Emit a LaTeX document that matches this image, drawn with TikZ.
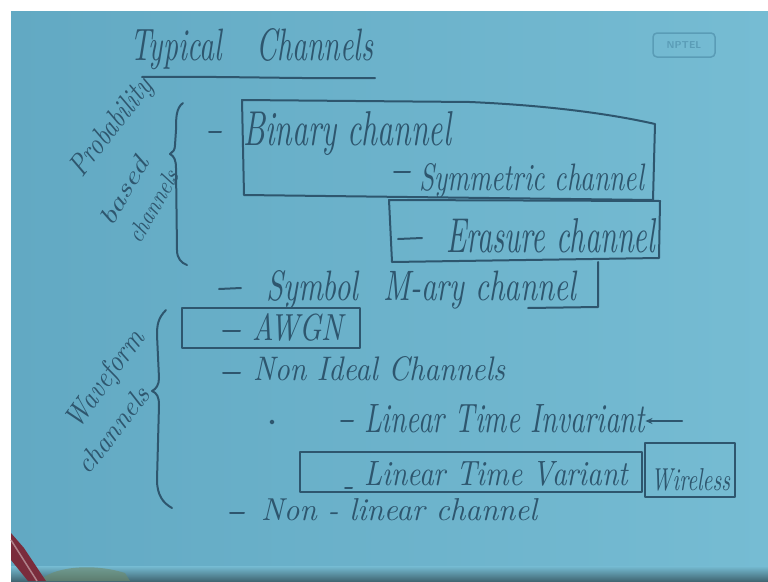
\documentclass[tikz,border=0pt]{standalone}
\usepackage{graphicx}
\usetikzlibrary{arrows.meta}
\definecolor{paperL}{HTML}{62A9C3}
\definecolor{paperR}{HTML}{76BCD3}
\definecolor{ink}{HTML}{2E566E}
\definecolor{logo}{HTML}{5A9CB6}
\definecolor{pen}{HTML}{7A2C3C}
\definecolor{olive}{HTML}{6F8A6A}
% handwritten word: width, height above baseline, text
\newcommand\hw[3]{\resizebox{#1pt}{#2pt}{\itshape #3}}
\begin{document}
\begin{tikzpicture}[x=1pt,y=-1pt,
  ink/.style={draw=ink, line width=2pt, line cap=round, line join=round},
  hand/.style={text=ink, inner sep=0pt, anchor=base west},
  slant/.style={text=ink, inner sep=0pt, anchor=center}]
\useasboundingbox (0,0) rectangle (768,581);
% sheet on the board
\fill[white] (0,0) rectangle (768,581);
\shade[left color=paperL, right color=paperR] (11,11) rectangle (768,581);
\shade[top color=paperR, bottom color=paperR!55!black] (11,566) rectangle (768,581);
\fill[olive, opacity=0.6] (40,581) .. controls (50,568) and (90,562) .. (125,573) -- (130,581) -- cycle;
\fill[pen] (11,533) -- (24,548) -- (46,581) -- (28,581) -- (11,560) -- cycle;
\draw[pen!60!white, line width=1.5pt] (11,540) -- (37,581);
% logo
\node[draw=logo, line width=1.5pt, rounded corners=4pt, text=logo, font=\sffamily\bfseries, inner sep=3pt, minimum width=62pt, minimum height=24pt] (lg) at (684,45) {NPTEL};

% title
\node[hand] (title) at (130,60) {\hw{243}{32}{Typical\hspace{1.2em}Channels}};
\draw[ink] (142,77) .. controls (220,76) and (300,79) .. (375,78);

% probability based channels
\node[slant, rotate=52] (pb1) at (112,128) {\hw{116}{21}{Probability}};
\node[slant, rotate=60] (pb2) at (124,191) {\hw{74}{17}{based}};
\node[slant, rotate=60] (pb3) at (153,206) {\hw{80}{17}{channels}};
\draw[ink] (183,103) .. controls (176,108) and (176,118) .. (176,130) -- (175,145)
  .. controls (175,150) and (173,152) .. (170,154) .. controls (174,156) and (176,160) .. (176,168)
  -- (177,250) .. controls (177,258) and (181,263) .. (187,265);

\node[hand] (bin) at (243,145) {\hw{208}{34}{Binary channel}};
\draw[ink] (209,132) -- (221,132);
\node[hand] (sym) at (419,190) {\hw{225}{27}{Symmetric channel}};
\draw[ink] (394,172) -- (410,172);
\node[hand] (era) at (446,252) {\hw{209}{34}{Erasure channel}};
\draw[ink] (398,239) -- (422,238);
\node[hand] (mary) at (266,300) {\hw{310}{30}{Symbol\hspace{0.8em}M-ary channel}};
\draw[ink] (219,289) -- (241,288);

% boxes round the binary family
\draw[ink] (244,195) -- (242,100) -- (470,102) .. controls (560,106) and (620,116) .. (655,124)
  -- (653,200) -- cycle;
\draw[ink] (389,200) -- (660,201) -- (659,258) -- (392,262) -- cycle;
\draw[ink] (598,262) -- (598,307) -- (528,308);

% waveform channels
\node[slant, rotate=54] (wf1) at (106,380) {\hw{114}{21}{Waveform}};
\node[slant, rotate=52] (wf2) at (113,430) {\hw{102}{19}{channels}};
\draw[ink] (166,310) .. controls (158,318) and (157,325) .. (157,335) -- (159,378)
  .. controls (159,385) and (156,389) .. (152,391) .. controls (157,393) and (159,397) .. (159,405)
  -- (157,480) .. controls (157,495) and (163,503) .. (172,508);

\node[hand] (awgn) at (252,340) {\hw{91}{27}{AWGN}};
\draw[ink] (223,331) -- (240,331);
\draw[ink] (182,308) rectangle (360,348);

\node[hand] (nid) at (253,380) {\hw{252}{24}{Non Ideal Channels}};
\draw[ink] (223,373) -- (240,373);

\fill[ink] (272,422) circle (1.5pt);
\node[hand] (lti) at (364,432) {\hw{281}{28}{Linear Time Invariant}};
\draw[ink] (341,421) -- (353,421);
\coordinate (arr) at (682,421);
\draw[ink, -{Stealth[length=7pt,width=6pt]}] (arr) -- (lti.east |- arr);

\node[hand] (ltv) at (364,485) {\hw{264}{24}{Linear Time Variant}};
\draw[ink] (345,488) -- (352,488);
\draw[ink] (300,452) rectangle (642,492);
\node[hand] (wl) at (651,490) {\hw{79}{22}{Wireless}};
\draw[ink] (645,443) rectangle (735,497);

\node[hand] (nl) at (261,520) {\hw{276}{22}{Non - linear channel}};
\draw[ink] (230,513) -- (244,513);
\end{tikzpicture}
\end{document}
